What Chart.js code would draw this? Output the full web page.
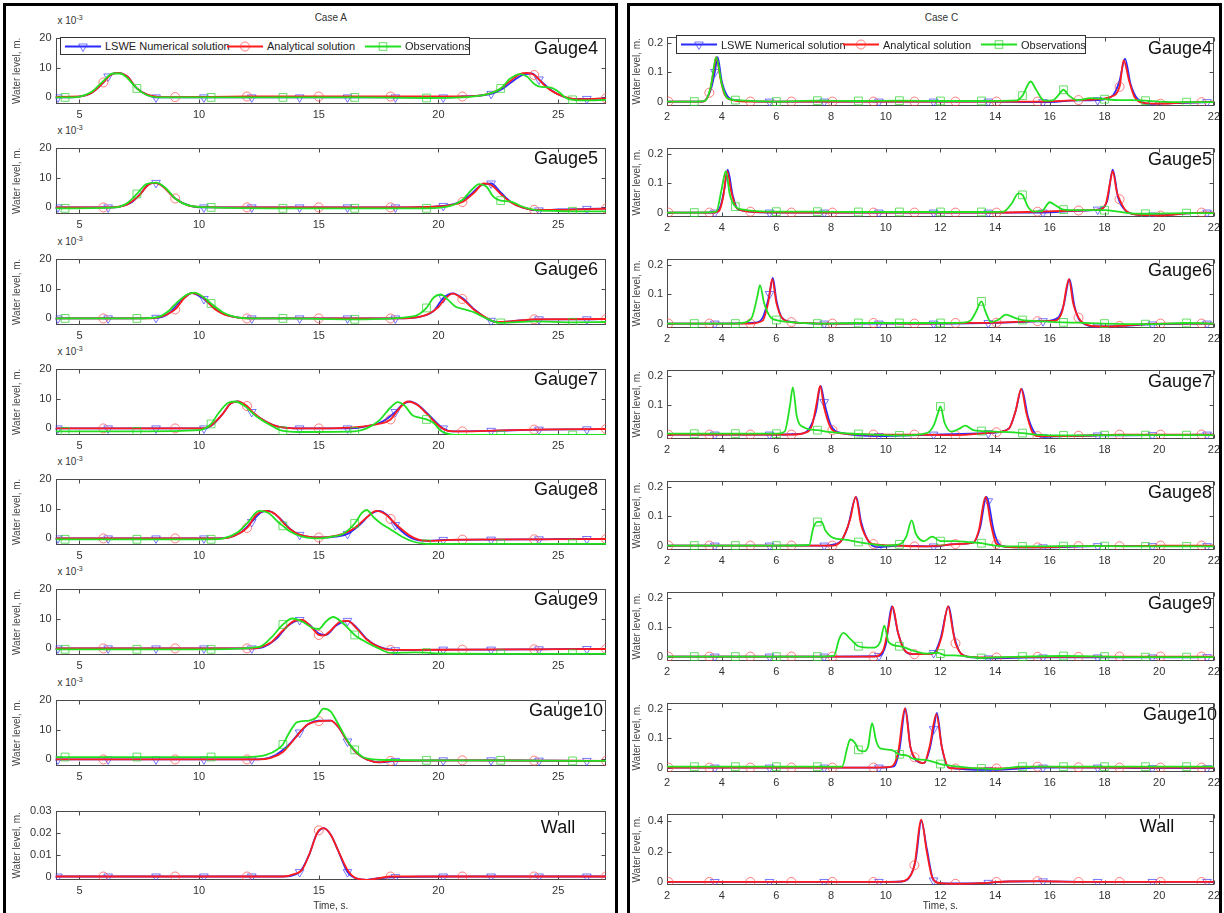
<!DOCTYPE html>
<html>
<head>
<meta charset="utf-8">
<title>Water level time series – Case A and Case C</title>
<script src="https://cdn.jsdelivr.net/npm/chart.js@4.4.1/dist/chart.umd.min.js"></script>
<style>
  html, body { margin: 0; padding: 0; background: #fff; }
  body { position: relative; width: 1224px; height: 913px; overflow: hidden;
         font-family: "Liberation Sans", Arial, Helvetica, sans-serif; }
  canvas { position: absolute; }
  .panel { position: absolute; top: 3px; height: 930px; border: 3px solid #000;
           box-sizing: border-box; pointer-events: none; z-index: 5; }
  .txt { position: absolute; white-space: nowrap; color: #222; }
  .gauge { font-size: 18px; color: #111; transform: translate(-50%, -50%); }
  .small { font-size: 10px; color: #333; }
  .center { transform: translate(-50%, -50%); }
  .mult sup { font-size: 7px; vertical-align: 4px; }
  .legend { position: absolute; background: #fff; border: 1px solid #333; box-sizing: border-box; z-index: 3; }
  .legend .item { position: absolute; top: 0; height: 100%; display: flex; align-items: center;
                  font-size: 11px; color: #222; }
  .legend svg { margin-right: 4px; }
</style>
</head>
<body>
<script>
// ---------- axis ticks ----------
const timeTicksA = [5, 10, 15, 20, 25];
const timeLabelsA = ['5', '10', '15', '20', '25'];
const levelTicksA = [0, 10, 20];               // units of 10^-3 m
const levelLabelsA = ['0', '10', '20'];
const wallTicksA = [0, 0.01, 0.02, 0.03];
const wallLabelsA = ['0', '0.01', '0.02', '0.03'];

const timeTicksC = [2, 4, 6, 8, 10, 12, 14, 16, 18, 20, 22];
const timeLabelsC = ['2', '4', '6', '8', '10', '12', '14', '16', '18', '20', '22'];
const levelTicksC = [0, 0.1, 0.2];
const levelLabelsC = ['0', '0.1', '0.2'];
const wallTicksC = [0, 0.2, 0.4];
const wallLabelsC = ['0', '0.2', '0.4'];

// ---------- sample times that carry a marker ----------
const lsweMarksA = [4.1, 6.2, 8.2, 10.2, 12.2, 14.2, 16.2, 18.2, 20.2, 22.2, 24.2, 26.2];
const analyticMarksA = [6, 9, 12, 15, 18, 21, 24, 27];
const obsMarksA = [4.4, 7.4, 10.5, 13.5, 16.5, 19.5, 22.6, 25.6];
const lsweMarksC = [3.75, 5.75, 7.75, 9.75, 11.75, 13.75, 15.75, 17.75, 19.75, 21.75];
const analyticMarksC = [2.05, 3.55, 5.05, 6.55, 8.05, 9.55, 11.05, 12.55, 14.05, 15.55, 17.05, 18.55, 20.05, 21.55];
const obsMarksC = [3, 4.5, 6, 7.5, 9, 10.5, 12, 13.5, 15, 16.5, 18, 19.5, 21];

// ---------- Case A (water level in 10^-3 m, wall in m) : [time s, level] ----------
const lsweA4 = [[4,0],[4.1,0],[5,0.3],[5.5,1.5],[6,5],[6.2,7],[6.6,8.2],[7,7],[7.4,3],[7.8,1],[8.2,0],[10.2,0],[12.2,0],[14.2,0],[16.2,0],[18.2,0],[20.2,0],[21,0.3],[22.2,1.2],[22.7,3],[23.2,6],[23.6,7.8],[23.9,8],[24.2,6],[24.7,2.5],[25.2,0.3],[25.6,-0.5],[26.2,-0.5],[27,-0.3]];
const analyticA4 = [[4,0.2],[5,0.3],[5.5,1.5],[6,5],[6.3,7.5],[6.6,8.2],[7,7],[7.4,3],[7.8,1],[8.3,0.2],[9,0.1],[12,0.3],[15,0.3],[18,0.3],[21,0.3],[22,1],[22.5,2.5],[23,5.5],[23.4,7.8],[23.7,8.2],[24,7.5],[24.5,3.5],[25,1],[25.5,-0.3],[26,-0.6],[27,-0.3]];
const obsA4 = [[4,0],[4.4,0],[5,0.3],[5.5,1.8],[6,5.5],[6.4,8],[6.7,8],[7,6.5],[7.4,3],[7.8,0.8],[8.3,0],[10.5,0],[13.5,0],[16.5,0],[19.5,-0.2],[21,0],[22,1],[22.6,3],[23,6.3],[23.4,7.8],[23.7,7],[24,4.5],[24.3,3.5],[24.7,3.3],[25,2],[25.3,0],[25.6,-0.8],[26.2,-1],[27,-0.8]];

const lsweA5 = [[4,0],[4.1,0],[6.2,0],[6.7,0.3],[7.2,1.8],[7.6,5],[7.9,7.8],[8.2,8.2],[8.5,7],[9,3],[9.6,0.6],[10.2,0],[12.2,0],[14.2,0],[16.2,0],[18.2,0],[20.2,0.5],[20.8,1.5],[21.3,4],[21.8,7.5],[22.2,8],[22.6,5],[23,2],[23.5,0],[24.2,-1],[25,-0.7],[26.2,-0.5],[27,-0.4]];
const analyticA5 = [[4,0],[6,0],[6.5,0.1],[7,1],[7.5,4],[7.8,7],[8.1,8.2],[8.4,7.5],[9,3],[9.5,0.8],[10,0.2],[12,0],[15,0],[18,0],[20,0.3],[20.5,0.8],[21,1.8],[21.5,5],[21.9,8],[22.2,7.5],[22.6,4.5],[23,1.8],[23.5,0],[24,-0.8],[25,-0.8],[27,-0.4]];
const obsA5 = [[4,-0.3],[4.4,-0.3],[6.5,0],[7,1.5],[7.4,4.5],[7.8,7.8],[8.2,8.3],[8.6,6.5],[9,3],[9.6,0.6],[10.5,0],[13.5,-0.3],[16.5,-0.3],[19.5,-0.3],[20.5,0.5],[21,2.5],[21.4,6],[21.7,7.8],[22,7],[22.3,3.5],[22.6,2.3],[23,2],[23.5,0.3],[24,-0.8],[25,-1.2],[25.6,-1.3],[27,-1.3]];

const lsweA6 = [[4,0],[4.1,0],[6.2,0],[8.2,0.2],[8.7,1.5],[9.2,5.5],[9.7,8.5],[10.2,6.5],[10.7,3],[11.2,1],[12.2,0],[14.2,0],[16.2,0],[18.2,0],[19.2,0.5],[19.8,2.5],[20.2,6.8],[20.6,8.4],[21,6.8],[21.5,3],[22.2,-0.8],[22.6,-1.2],[23,-1],[24.2,-0.3],[26.2,-0.3],[27,-0.2]];
const analyticA6 = [[4,0],[6,0],[8,0],[8.5,0.8],[9,3],[9.4,7],[9.7,8.5],[10.1,7.5],[10.6,3.5],[11,1.5],[11.5,0.4],[12,0],[15,0],[18,0],[19,0.3],[19.5,1.2],[20,3.8],[20.3,6.8],[20.6,8.3],[21,6.5],[21.5,2.8],[22,0.2],[22.4,-1.2],[23,-1],[24,-0.3],[27,-0.2]];
const obsA6 = [[4,0],[4.4,0],[7.4,0],[8.3,0.5],[8.8,3],[9.1,5.5],[9.5,8],[9.8,8.6],[10.2,7],[10.5,5],[11,2],[11.5,0.5],[12.2,0],[13.5,0],[16.5,-0.3],[19,0.8],[19.5,3.5],[19.8,7],[20.1,8],[20.4,6.2],[20.7,4],[21.1,3],[21.5,2],[22,0],[22.6,-1.5],[24,-1],[25.6,-1.3],[27,-1.2]];

const lsweA7 = [[4,0],[4.1,0],[6.2,0],[8.2,0],[10.2,0],[10.6,1.5],[11,5],[11.3,8.2],[11.6,9],[12,7.2],[12.2,5.5],[12.8,2.2],[13.3,0.6],[14.2,0],[16.2,0],[17.2,1],[17.7,2.5],[18.2,5.5],[18.5,8],[18.8,9],[19.2,7.5],[19.6,4.5],[20.2,0],[20.6,-1],[22.2,-0.8],[24.2,-0.4],[26.2,-0.3],[27,-0.2]];
const analyticA7 = [[4,0],[6,0],[9,0],[10,0],[10.5,1],[11,5],[11.3,8.2],[11.6,9],[12,7.5],[12.3,5],[12.8,2.2],[13.3,0.6],[14,0],[15,0],[16,0.2],[17,0.8],[17.5,1.5],[18,3],[18.3,6],[18.7,9],[19.1,8],[19.5,5],[20,1],[20.4,-0.8],[21,-1],[22,-0.8],[24,-0.4],[27,-0.2]];
const obsA7 = [[4,-1],[4.4,-1],[7.4,-1],[10,-0.6],[10.5,1.5],[10.8,5],[11.2,8.5],[11.5,9],[11.9,7.5],[12.4,4],[13,1],[13.5,-0.8],[14.5,-1.2],[16.5,-1],[17,0],[17.5,2.5],[18,7],[18.3,8.8],[18.6,7.5],[18.9,4.5],[19.2,3.6],[19.5,3],[19.8,1.8],[20.1,-0.8],[20.5,-2],[21,-2.2],[22.6,-2.2],[25.6,-2.2],[27,-2.2]];

const lsweA8 = [[4,0],[4.1,0],[6.2,0],[8.2,0],[10.2,0],[11.2,0.3],[11.7,1.8],[12.2,5.5],[12.6,8.8],[12.9,9.2],[13.4,6.5],[13.8,3.2],[14.2,1.2],[14.7,0.4],[15.2,0.3],[15.7,0.6],[16.2,1.5],[16.7,4.5],[17.2,8.3],[17.5,9.2],[17.9,7.5],[18.2,4.5],[18.6,1.5],[19.1,-0.5],[19.6,-0.8],[20.2,-0.5],[22.2,-0.4],[24.2,-0.3],[26.2,-0.2],[27,-0.2]];
const analyticA8 = [[4,0],[6,0],[9,0],[11,0],[11.5,1],[12,3.5],[12.4,8],[12.8,9.2],[13.2,8],[13.6,4.5],[14,2],[14.5,0.7],[15,0.3],[15.5,0.6],[16,1.5],[16.5,3.5],[17,7],[17.4,9.2],[17.8,8],[18,6.5],[18.4,3.5],[18.8,1],[19.2,-0.5],[19.6,-0.8],[20.5,-0.5],[21,-0.4],[24,-0.3],[27,-0.2]];
const obsA8 = [[4,-0.3],[4.4,-0.3],[7.4,-0.3],[10.5,-0.3],[11,0],[11.6,2],[12,5],[12.5,9.2],[12.9,8.5],[13.3,5.5],[13.5,4.2],[13.8,2.3],[14.3,0.6],[15,0],[15.5,0.5],[16,1.5],[16.5,5],[16.8,8.5],[17,9.5],[17.3,7],[17.6,5],[18,3],[18.5,0.5],[19,-1.2],[19.5,-1.8],[22.6,-1.8],[25.6,-1.8],[27,-1.8]];

const lsweA9 = [[4,0],[4.1,0],[6.2,0],[8.2,0],[10.2,0],[12.2,0],[12.7,0.5],[13.2,3],[13.7,7.5],[14.2,9.5],[14.6,8],[15,5],[15.3,4.5],[15.7,7.5],[16.2,9.2],[16.6,6.8],[17,3.2],[17.5,0.6],[18.2,-0.6],[20.2,-0.4],[22.2,-0.4],[24.2,-0.3],[26.2,-0.2],[27,-0.2]];
const analyticA9 = [[4,0],[6,0],[9,0],[12,0],[12.5,0.3],[13,2],[13.5,6],[14,9.3],[14.3,9.5],[14.7,7],[15,4.5],[15.2,4.3],[15.5,6],[15.9,9],[16.2,9.2],[16.6,6.5],[17,3],[17.5,0.5],[18,-0.5],[19,-0.5],[21,-0.4],[24,-0.3],[27,-0.2]];
const obsA9 = [[4,-0.3],[4.4,-0.3],[7.4,-0.3],[10.5,-0.3],[12.5,0.5],[13,3.5],[13.5,8],[13.9,10],[14.3,9],[14.7,7],[15,6.5],[15.3,9],[15.6,10.5],[16,8.5],[16.5,4.5],[17,2],[17.5,0],[18,-1.5],[19,-1.3],[19.5,-1.4],[20,-1.7],[22.6,-1.8],[25.6,-1.8],[27,-1.8]];

const lsweA10 = [[4,0],[4.1,0],[6.2,0],[8.2,0],[10.2,0],[12.2,0],[12.7,0.2],[13.2,1.5],[13.7,4.5],[14.2,9],[14.6,12],[15,13],[15.5,13],[15.8,11],[16.2,6],[16.6,2],[17,0],[17.6,-1],[18.2,-0.5],[20.2,-0.3],[22.2,-0.3],[24.2,-0.4],[26.2,-0.5],[27,-0.5]];
const analyticA10 = [[4,0],[6,0],[9,0],[12,0],[12.5,0],[13,0.5],[13.5,2.5],[14,7],[14.5,11.5],[15,12.8],[15.5,13],[15.8,11],[16.2,6],[16.6,2],[17,0],[17.5,-1],[18,-0.5],[21,-0.3],[24,-0.4],[27,-0.5]];
const obsA10 = [[4,0.8],[4.4,0.8],[7.4,0.8],[10.5,0.8],[12,0.8],[12.8,1.5],[13.3,3.5],[13.5,5],[13.7,8],[14.1,12.5],[14.6,13],[14.9,14],[15.2,17],[15.5,16],[15.8,12],[16.3,5],[16.5,3.2],[16.8,1],[17.3,0],[18,-0.2],[19.5,-0.3],[22.6,-0.3],[25.6,-0.5],[27,-0.5]];

const lsweAWall = [[4,0],[4.1,0],[6.2,0],[8.2,0],[10.2,0],[12.2,0],[13.5,0],[14.2,0.002],[14.6,0.01],[14.9,0.019],[15.2,0.022],[15.5,0.019],[15.8,0.012],[16.2,0.002],[16.6,-0.001],[17,-0.0015],[17.5,-0.0008],[18.2,-0.0003],[20.2,0],[22.2,0],[24.2,0],[26.2,0],[27,0]];
const analyticAWall = [[4,0],[6,0],[9,0],[12,0],[13.5,0],[14,0.0012],[14.3,0.003],[14.6,0.01],[14.9,0.019],[15,0.021],[15.2,0.022],[15.5,0.019],[15.8,0.012],[16.2,0.003],[16.6,-0.001],[17,-0.0015],[17.5,-0.0008],[18,0],[21,0],[24,0],[27,0]];

// ---------- Case C (water level in m) : [time s, level] ----------
const lsweC4 = [[2,0],[3.3,0],[3.6,0.04],[3.75,0.1],[3.85,0.15],[4.0,0.07],[4.2,0.02],[4.5,0.005],[5.75,0],[7.75,0],[9.75,0],[11.75,0],[13.75,0],[15.75,-0.002],[17.05,0.004],[17.75,0.005],[18.3,0.02],[18.55,0.07],[18.75,0.145],[18.95,0.06],[19.2,0.01],[19.75,-0.008],[20.5,-0.005],[21.75,-0.002],[22,0]];
const analyticC4 = [[2,0],[2.05,0],[3.3,0],[3.55,0.03],[3.7,0.1],[3.8,0.15],[3.95,0.08],[4.1,0.025],[4.4,0.005],[5.05,0],[6.55,0],[8.05,0],[9.55,0],[11.05,0],[12.55,0],[14.05,0],[15.55,0],[17.05,0.005],[17.8,0.008],[18.2,0.015],[18.55,0.05],[18.7,0.14],[18.9,0.07],[19.1,0.015],[19.5,-0.005],[20.05,-0.007],[21,-0.003],[21.55,-0.002],[22,0]];
const obsC4 = [[2,0],[3,0],[3.4,0.003],[3.6,0.05],[3.8,0.15],[4.0,0.06],[4.2,0.012],[4.5,0.005],[6,0],[7.5,0.003],[9,0.002],[10.5,0.003],[12,0.002],[13.5,0.002],[14.8,0.004],[15,0.02],[15.3,0.068],[15.5,0.04],[15.8,0.003],[16.1,0.004],[16.3,0.02],[16.5,0.04],[16.7,0.02],[17,0.005],[17.5,0.012],[18,0.008],[18.5,0.005],[19,0.005],[19.5,0.003],[20,0],[21,-0.002],[22,-0.002]];

const lsweC5 = [[2,0],[3.75,0],[3.95,0.02],[4.1,0.08],[4.22,0.145],[4.4,0.06],[4.6,0.01],[5.75,0],[7.75,0],[9.75,0],[11.75,0],[13.75,0],[15.75,0],[17.0,0.006],[17.75,0.01],[18.1,0.04],[18.3,0.145],[18.5,0.05],[18.8,0.005],[19.3,-0.008],[19.75,-0.01],[21,-0.003],[21.75,0],[22,0]];
const analyticC5 = [[2,0],[2.05,0],[3.55,0],[3.9,0.005],[4.05,0.05],[4.2,0.14],[4.35,0.07],[4.55,0.015],[5.05,0.003],[6.55,0],[8.05,0],[9.55,0],[11.05,0],[12.55,0],[14.05,0],[15.55,0.003],[17.05,0.007],[17.8,0.01],[18.05,0.03],[18.2,0.1],[18.3,0.14],[18.45,0.07],[18.55,0.045],[18.8,0.005],[19.3,-0.008],[20.05,-0.01],[21,-0.003],[21.55,0],[22,0]];
const obsC5 = [[2,0],[3,0],[3.8,0.003],[4.0,0.08],[4.15,0.14],[4.3,0.06],[4.5,0.02],[4.8,0.01],[6,0.003],[7.5,0.003],[9,0.002],[10.5,0.002],[12,0.002],[13.5,0.002],[14.3,0.003],[14.6,0.03],[14.85,0.065],[15,0.06],[15.2,0.02],[15.4,0.004],[15.7,0.005],[16.0,0.035],[16.2,0.025],[16.5,0.01],[17,0.008],[18,0.008],[18.5,0.003],[19,-0.003],[19.5,-0.004],[21,-0.002],[22,-0.002]];

const lsweC6 = [[2,0],[3.75,0],[5.2,0.003],[5.5,0.02],[5.75,0.1],[5.87,0.155],[6.0,0.08],[6.2,0.02],[6.6,0.005],[7.75,0],[9.75,0],[11.75,0],[13.75,0.002],[15.75,0.008],[16.3,0.02],[16.5,0.06],[16.72,0.15],[16.9,0.06],[17.1,0.01],[17.75,-0.01],[18.5,-0.008],[19.75,-0.003],[21.75,0],[22,0]];
const analyticC6 = [[2,0],[2.05,0],[3.55,0],[5.05,0],[5.5,0.01],[5.7,0.07],[5.85,0.15],[6.0,0.07],[6.2,0.02],[6.55,0.005],[8.05,0],[9.55,0.002],[11.05,0],[12.55,0.002],[14.05,0.003],[15.55,0.008],[16.2,0.01],[16.45,0.04],[16.7,0.15],[16.85,0.07],[17.05,0.02],[17.4,-0.005],[18,-0.01],[18.55,-0.008],[20.05,0],[21.55,0],[22,0]];
const obsC6 = [[2,0],[3,0],[4.5,0],[4.8,0.003],[5.1,0.02],[5.3,0.09],[5.4,0.13],[5.55,0.07],[5.8,0.02],[6,0.012],[6.5,0.005],[7.5,0],[9,0.002],[10.5,0.002],[12,0.002],[12.8,0.003],[13.1,0.01],[13.3,0.04],[13.5,0.075],[13.65,0.04],[13.85,0.005],[14.1,0.012],[14.4,0.03],[14.7,0.02],[15,0.012],[15.5,0.008],[16.5,0.004],[17,0.003],[18,0],[19.5,-0.002],[21,0.002],[22,0]];

const lsweC7 = [[2,0],[3.75,0],[5.75,0],[6.8,0.002],[7.2,0.02],[7.45,0.08],[7.62,0.165],[7.75,0.11],[8.0,0.03],[8.4,0.005],[9.75,-0.005],[11.75,0],[13.75,0.005],[14.5,0.02],[14.75,0.08],[14.97,0.155],[15.2,0.06],[15.45,0.005],[15.75,-0.008],[16.5,-0.005],[17.75,-0.003],[19.75,-0.002],[21.75,0],[22,0]];
const analyticC7 = [[2,0],[2.05,0],[3.55,0],[5.05,0],[6.55,0],[7.0,0.005],[7.3,0.03],[7.48,0.11],[7.6,0.165],[7.75,0.09],[8.05,0.015],[8.5,0.003],[9.55,0],[11.05,0],[12.55,-0.002],[13.5,0.003],[14.05,0.008],[14.5,0.02],[14.75,0.08],[14.95,0.155],[15.15,0.07],[15.35,0.01],[15.55,-0.005],[16.5,-0.005],[17.05,-0.004],[18.55,0],[20.05,0],[21.55,0],[22,0]];
const obsC7 = [[2,0.003],[3,0.003],[4.5,0.003],[6,0.003],[6.3,0.01],[6.5,0.1],[6.6,0.16],[6.75,0.06],[7,0.025],[7.5,0.015],[8,0.008],[9,0.002],[10.5,-0.003],[11.5,0.005],[11.75,0.03],[11.9,0.07],[12,0.095],[12.15,0.04],[12.4,0.01],[12.7,0.02],[12.9,0.03],[13.2,0.015],[13.5,0.012],[14,0.01],[15,0.005],[15.5,0],[16.5,-0.003],[18,-0.002],[19.5,-0.002],[21,-0.002],[22,-0.002]];

const lsweC8 = [[2,0],[3.75,0],[5.75,0],[7.75,0],[8.3,0.01],[8.6,0.06],[8.92,0.165],[9.1,0.08],[9.4,0.01],[9.75,-0.005],[10.5,0],[11.75,-0.003],[12.5,0.005],[13.2,0.01],[13.45,0.06],[13.68,0.165],[13.75,0.15],[13.95,0.05],[14.2,0],[14.6,-0.005],[15.75,-0.006],[17.75,-0.002],[19.75,-0.002],[21.75,-0.002],[22,0]];
const analyticC8 = [[2,0],[2.05,0],[3.55,0],[5.05,0],[6.55,0],[8.05,0],[8.4,0.02],[8.7,0.09],[8.9,0.165],[9.1,0.07],[9.4,0.012],[9.55,0.005],[10.5,0],[11.05,-0.003],[12,0],[12.55,0.005],[13.2,0.01],[13.4,0.05],[13.65,0.165],[13.85,0.07],[14.05,0.005],[14.5,-0.005],[15.55,-0.006],[17.05,-0.002],[18.55,-0.002],[20.05,0],[21.55,0],[22,0]];
const obsC8 = [[2,0],[3,0],[4.5,0],[6,0],[7.2,0.002],[7.35,0.06],[7.5,0.08],[7.65,0.08],[7.8,0.05],[8.1,0.025],[8.5,0.02],[9,0.012],[9.5,0.005],[10,0],[10.5,0.004],[10.75,0.03],[10.95,0.085],[11.1,0.04],[11.4,0.015],[11.7,0.03],[12,0.015],[12.5,0.015],[13,0.012],[13.5,0.008],[14,0],[15,-0.003],[16.5,-0.002],[18,-0.002],[19.5,-0.003],[21,-0.003],[22,-0.003]];

const lsweC9 = [[2,0],[3.75,0],[5.75,0],[7.75,0],[9.75,0.002],[10.0,0.04],[10.22,0.17],[10.45,0.08],[10.7,0.02],[11.0,0.008],[11.75,0.012],[12.0,0.06],[12.3,0.17],[12.5,0.07],[12.75,0.01],[13.2,-0.003],[13.75,-0.006],[15.75,-0.003],[17.75,-0.003],[19.75,-0.003],[21.75,-0.002],[22,0]];
const analyticC9 = [[2,0],[2.05,0],[3.55,0],[5.05,0],[6.55,0],[8.05,0],[9.55,0],[9.9,0.02],[10.1,0.1],[10.25,0.17],[10.45,0.08],[10.7,0.02],[11.05,0.008],[11.5,0.008],[11.8,0.012],[12.05,0.07],[12.28,0.17],[12.45,0.09],[12.55,0.045],[12.75,0.01],[13,0],[14.05,-0.003],[15.55,-0.001],[17.05,-0.001],[18.55,0],[20.05,0],[21.55,0],[22,0]];
const obsC9 = [[2,0],[3,0],[4.5,0],[6,0],[7.5,0],[8.1,0.002],[8.3,0.06],[8.45,0.08],[8.7,0.06],[9,0.035],[9.5,0.03],[9.8,0.05],[9.95,0.105],[10.1,0.05],[10.5,0.035],[10.7,0.03],[11,0.02],[11.5,0.01],[11.9,0.013],[12,0.01],[12.2,0.004],[12.5,0.004],[13,0],[13.5,-0.005],[14,-0.003],[15,0],[16.5,0.002],[18,0],[19.5,-0.002],[21,-0.002],[22,-0.002]];

const lsweC10 = [[2,0],[3.75,0],[5.75,0],[7.75,0],[9.75,0],[10.3,0.004],[10.5,0.06],[10.72,0.2],[10.9,0.07],[11.1,0.025],[11.4,0.015],[11.6,0.06],[11.75,0.13],[11.87,0.185],[12.05,0.07],[12.3,0],[13.75,-0.008],[15.75,0],[17.75,0],[19.75,-0.002],[21.75,-0.002],[22,0]];
const analyticC10 = [[2,0],[2.05,0],[3.55,0],[5.05,0],[6.55,0],[8.05,0],[9.55,0],[10.2,0.003],[10.45,0.05],[10.7,0.2],[10.9,0.07],[11.05,0.035],[11.4,0.015],[11.6,0.07],[11.85,0.18],[12.05,0.07],[12.3,0],[12.55,-0.003],[14.05,-0.003],[15.55,0.003],[17.05,0.001],[18.55,0],[20.05,0],[21.55,0],[22,0]];
const obsC10 = [[2,0.003],[3,0.003],[4.5,0.003],[6,0.003],[7.5,0.003],[8.4,0.003],[8.6,0.07],[8.7,0.095],[8.9,0.08],[9,0.06],[9.2,0.055],[9.35,0.07],[9.5,0.15],[9.65,0.09],[9.8,0.065],[10.2,0.06],[10.5,0.045],[10.8,0.04],[11,0.03],[11.5,0.025],[12,0.012],[12.5,0.005],[13,0],[13.5,-0.003],[14,-0.005],[15,0.003],[16.5,0.003],[18,0.003],[19.5,0.003],[21,0.003],[22,0.003]];

const lsweCWall = [[2,0],[3.75,0],[5.75,0],[7.75,0],[9.75,0],[10.6,0.003],[10.9,0.04],[11.1,0.15],[11.3,0.4],[11.5,0.22],[11.75,0.01],[12,-0.008],[12.5,-0.01],[13.75,-0.006],[14.5,0.003],[15.75,0.004],[17.75,0],[19.75,0],[21.75,0],[22,0]];
const analyticCWall = [[2,0],[2.05,0],[3.55,0],[5.05,0],[6.55,0],[8.05,0],[9.55,0],[10.5,0.002],[10.8,0.02],[11.05,0.11],[11.3,0.41],[11.5,0.2],[11.7,0.03],[12,-0.008],[12.55,-0.012],[13.5,-0.008],[14.05,0],[14.5,0.003],[15.55,0.005],[16.5,0.002],[17.05,0],[18.55,0],[20.05,0],[21.55,0],[22,0]];

// ---------- series appearance ----------
const FONT = "'Liberation Sans', Arial, Helvetica, sans-serif";
Chart.defaults.font.family = FONT;

const SERIES = {
  lswe:     { label: 'LSWE Numerical solution', line: '#2a2aff', mark: 'rgba(60,60,255,0.7)',  style: 'triangle', rotation: 180, radius: 5,   order: 3 },
  analytic: { label: 'Analytical solution',     line: '#ff1c1c', mark: 'rgba(255,60,60,0.65)', style: 'circle',   rotation: 0,   radius: 4.5, order: 2 },
  obs:      { label: 'Observations',            line: '#22e022', mark: 'rgba(40,210,40,0.7)',  style: 'rect',     rotation: 0,   radius: 5.5, order: 1 }
};
const SERIES_KEYS = ['lswe', 'analytic', 'obs'];

// ---------- the two columns ----------
const CASES = [
  {
    title: 'Case A', marks: { lswe: lsweMarksA, analytic: analyticMarksA, obs: obsMarksA },
    xMin: 4, xMax: 27, xTicks: timeTicksA, xLabels: timeLabelsA,
    panelLeft: 3, panelWidth: 615,
    canvasLeft: 11, canvasRight: 614, plotLeft: 55.5, plotRight: 606,
    tops: [33, 143, 254, 364, 474, 584, 695, 806], heights: [71, 71, 71, 71, 71, 71, 71, 74],
    gaugeX: 566, wallX: 558, gaugeDY: 15, wallDY: 21, multiplier: true,
    legend: { left: 60, top: 37, width: 410, height: 18 },
    gauges: [
      { name: 'Gauge4', lswe: lsweA4, analytic: analyticA4, obs: obsA4 },
      { name: 'Gauge5', lswe: lsweA5, analytic: analyticA5, obs: obsA5 },
      { name: 'Gauge6', lswe: lsweA6, analytic: analyticA6, obs: obsA6 },
      { name: 'Gauge7', lswe: lsweA7, analytic: analyticA7, obs: obsA7 },
      { name: 'Gauge8', lswe: lsweA8, analytic: analyticA8, obs: obsA8 },
      { name: 'Gauge9', lswe: lsweA9, analytic: analyticA9, obs: obsA9 },
      { name: 'Gauge10', lswe: lsweA10, analytic: analyticA10, obs: obsA10 },
      { name: 'Wall', lswe: lsweAWall, analytic: analyticAWall, wall: true }
    ],
    yRange: [-2.2, 20], yTicks: levelTicksA, yLabels: levelLabelsA,
    wallRange: [-0.0016, 0.03], wallTicks: wallTicksA, wallLabels: wallLabelsA
  },
  {
    title: 'Case C', marks: { lswe: lsweMarksC, analytic: analyticMarksC, obs: obsMarksC },
    xMin: 2, xMax: 22, xTicks: timeTicksC, xLabels: timeLabelsC,
    panelLeft: 627, panelWidth: 595,
    canvasLeft: 631, canvasRight: 1224, plotLeft: 667, plotRight: 1216,
    tops: [32, 143, 254, 365, 476, 587, 698, 809], heights: [74, 74, 74, 74, 74, 74, 74, 76],
    gaugeX: 1180, wallX: 1157, gaugeDY: 16, wallDY: 17, multiplier: false,
    legend: { left: 676, top: 35, width: 410, height: 19 },
    gauges: [
      { name: 'Gauge4', lswe: lsweC4, analytic: analyticC4, obs: obsC4 },
      { name: 'Gauge5', lswe: lsweC5, analytic: analyticC5, obs: obsC5 },
      { name: 'Gauge6', lswe: lsweC6, analytic: analyticC6, obs: obsC6 },
      { name: 'Gauge7', lswe: lsweC7, analytic: analyticC7, obs: obsC7 },
      { name: 'Gauge8', lswe: lsweC8, analytic: analyticC8, obs: obsC8 },
      { name: 'Gauge9', lswe: lsweC9, analytic: analyticC9, obs: obsC9 },
      { name: 'Gauge10', lswe: lsweC10, analytic: analyticC10, obs: obsC10 },
      { name: 'Wall', lswe: lsweCWall, analytic: analyticCWall, wall: true }
    ],
    yRange: [-0.015, 0.22], yTicks: levelTicksC, yLabels: levelLabelsC,
    wallRange: [-0.02, 0.45], wallTicks: wallTicksC, wallLabels: wallLabelsC
  }
];

// Box around the axes with short inward tick marks on all four sides
const boxAxes = {
  id: 'boxAxes',
  beforeDatasetsDraw(chart) {
    const { ctx, chartArea: a, scales: { x, y } } = chart;
    const L = Math.round(a.left) + 0.5, R = Math.round(a.right) - 0.5;
    const T = Math.round(a.top) + 0.5, B = Math.round(a.bottom) - 0.5;
    const len = 4;
    ctx.save();
    ctx.strokeStyle = '#4a4a4a';
    ctx.lineWidth = 1;
    ctx.strokeRect(L, T, R - L, B - T);
    ctx.beginPath();
    x.ticks.forEach(t => {
      const px = Math.round(x.getPixelForValue(t.value)) + 0.5;
      ctx.moveTo(px, B); ctx.lineTo(px, B - len);
      ctx.moveTo(px, T); ctx.lineTo(px, T + len);
    });
    y.ticks.forEach(t => {
      const py = Math.round(y.getPixelForValue(t.value)) + 0.5;
      ctx.moveTo(L, py); ctx.lineTo(L + len, py);
      ctx.moveTo(R, py); ctx.lineTo(R - len, py);
    });
    ctx.stroke();
    ctx.restore();
  }
};

function addText(html, cls, left, top) {
  const d = document.createElement('div');
  d.className = 'txt ' + cls;
  d.innerHTML = html;
  d.style.left = left + 'px';
  d.style.top = top + 'px';
  document.body.appendChild(d);
  return d;
}

function markerSvg(key) {
  const s = SERIES[key];
  const cx = 18, cy = 6.5;
  let shape;
  if (s.style === 'triangle') shape = `<polygon points="${cx - 4.3},${cy - 2.5} ${cx + 4.3},${cy - 2.5} ${cx},${cy + 5}" fill="none" stroke="${s.mark}" stroke-width="1"/>`;
  else if (s.style === 'circle') shape = `<circle cx="${cx}" cy="${cy}" r="4.5" fill="none" stroke="${s.mark}" stroke-width="1"/>`;
  else shape = `<rect x="${cx - 3.8}" y="${cy - 3.8}" width="7.6" height="7.6" fill="none" stroke="${s.mark}" stroke-width="1"/>`;
  return `<svg width="36" height="13" viewBox="0 0 36 13"><line x1="0" y1="${cy}" x2="36" y2="${cy}" stroke="${s.line}" stroke-width="1.8"/>${shape}</svg>`;
}

function addLegend(box) {
  const d = document.createElement('div');
  d.className = 'legend';
  Object.assign(d.style, { left: box.left + 'px', top: box.top + 'px', width: box.width + 'px', height: box.height + 'px' });
  const offsets = [4, 166, 304];
  SERIES_KEYS.forEach((k, i) => {
    const it = document.createElement('div');
    it.className = 'item';
    it.style.left = offsets[i] + 'px';
    it.innerHTML = markerSvg(k) + `<span>${SERIES[k].label}</span>`;
    d.appendChild(it);
  });
  document.body.appendChild(d);
}

CASES.forEach(cs => {
  // panel frame
  const p = document.createElement('div');
  p.className = 'panel';
  p.style.left = cs.panelLeft + 'px';
  p.style.width = cs.panelWidth + 'px';
  document.body.appendChild(p);

  const plotCenter = (cs.plotLeft + cs.plotRight) / 2;
  addText(cs.title, 'small center', plotCenter, 17);

  cs.gauges.forEach((g, gi) => {
    const last = gi === cs.gauges.length - 1;
    const top = cs.tops[gi], h = cs.heights[gi];
    const padTop = 6;
    const bottomRoom = last ? (906 + 6 - (top + h)) : 20;
    const cw = cs.canvasRight - cs.canvasLeft;
    const ch = padTop + h + bottomRoom;
    const leftRoom = cs.plotLeft - cs.canvasLeft;
    const rightRoom = cs.canvasRight - cs.plotRight;

    const cv = document.createElement('canvas');
    cv.width = cw; cv.height = ch;
    cv.style.left = cs.canvasLeft + 'px';
    cv.style.top = (top - padTop) + 'px';
    cv.style.width = cw + 'px'; cv.style.height = ch + 'px';
    document.body.appendChild(cv);

    const yr = g.wall ? cs.wallRange : cs.yRange;
    const yt = g.wall ? cs.wallTicks : cs.yTicks;
    const yl = g.wall ? cs.wallLabels : cs.yLabels;

    const datasets = SERIES_KEYS.filter(k => g[k]).map(k => {
      const s = SERIES[k];
      const marks = new Set(cs.marks[k]);
      return {
        label: s.label,
        data: g[k].map(([t, v]) => ({ x: t, y: v })),
        borderColor: s.line,
        borderWidth: 1.8,
        backgroundColor: 'transparent',
        cubicInterpolationMode: 'monotone',
        fill: false,
        order: s.order,
        pointStyle: s.style,
        rotation: s.rotation,
        pointBorderColor: s.mark,
        pointBackgroundColor: 'rgba(0,0,0,0)',
        pointBorderWidth: 1,
        pointRadius: ctx => (ctx.raw && marks.has(ctx.raw.x)) ? s.radius : 0,
        pointHoverRadius: 0
      };
    });

    new Chart(cv, {
      type: 'line',
      data: { datasets },
      options: {
        responsive: false,
        animation: false,
        events: [],
        devicePixelRatio: 1,
        layout: { padding: { top: padTop, right: rightRoom, left: 0, bottom: 0 } },
        plugins: { legend: { display: false }, tooltip: { enabled: false } },
        scales: {
          x: {
            type: 'linear', min: cs.xMin, max: cs.xMax,
            afterBuildTicks: s => { s.ticks = cs.xTicks.map(v => ({ value: v })); },
            afterFit: s => { s.height = bottomRoom; },
            grid: { display: false, drawTicks: false },
            border: { display: false },
            ticks: { color: '#333', font: { size: 11 }, padding: 4, maxRotation: 0, autoSkip: false,
                     callback: (v, i) => cs.xLabels[i] },
            title: { display: last, text: 'Time, s.', color: '#333', font: { size: 10 }, padding: 0 }
          },
          y: {
            type: 'linear', min: yr[0], max: yr[1],
            afterBuildTicks: s => { s.ticks = yt.map(v => ({ value: v })); },
            afterFit: s => { s.width = leftRoom; },
            grid: { display: false, drawTicks: false },
            border: { display: false },
            ticks: { color: '#333', font: { size: 11 }, padding: 4, autoSkip: false,
                     callback: (v, i) => yl[i] },
            title: { display: true, text: 'Water level, m.', color: '#444', font: { size: 10 }, padding: 0 }
          }
        }
      },
      plugins: [boxAxes]
    });

    // gauge name inside the axes
    if (g.wall) addText(g.name, 'gauge', cs.wallX, top + cs.wallDY);
    else addText(g.name, 'gauge', cs.gaugeX, top + cs.gaugeDY);

    // exponent note above the scaled axes
    if (cs.multiplier && !g.wall) addText('x 10<sup>-3</sup>', 'small mult', cs.plotLeft + 2, top - 19);

    if (gi === 0) addLegend(cs.legend);
  });
});
</script>
</body>
</html>
